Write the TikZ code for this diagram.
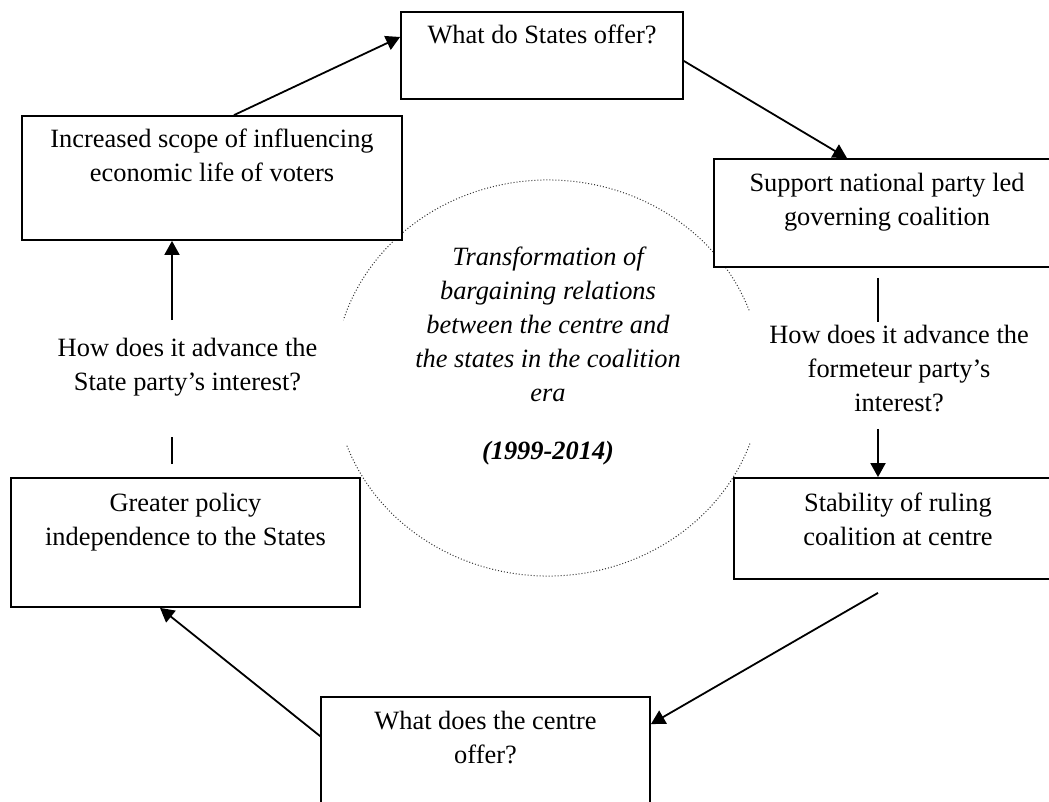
\documentclass[tikz,border=0pt]{standalone}
\usepackage{fontspec}
\setmainfont{Liberation Serif}
\usepackage{tikz}
\usetikzlibrary{positioning}
\usetikzlibrary{arrows.meta}

\begin{document}
\begin{tikzpicture}[x=0.5pt, y=-0.5pt,
    box/.style={draw, line width=0.9pt, fill=white, inner sep=0pt},
    txt/.style={align=center, inner sep=0pt, font=\fontsize{13.2}{17}\selectfont},
    line/.style={line width=0.9pt},
    arr/.style={line width=0.9pt, -{Triangle[length=7pt,width=7.5pt]}},
    ring/.style={line width=0.5pt, dash pattern=on 0.5pt off 1pt, black!80}]
        \useasboundingbox (0,0) rectangle (1049,802);
        \clip (0,0) rectangle (1049,802);

        % central ellipse
        \draw[ring] (548,378) ++(20:107pt and 99pt)
            arc[start angle=20, end angle=163, x radius=107pt, y radius=99pt];
        \draw[ring] (548,378) ++(200:107pt and 99pt)
            arc[start angle=200, end angle=341, x radius=107pt, y radius=99pt];
        \node[txt, font=\fontsize{13.2}{17}\selectfont\itshape, anchor=north] (theme) at (548,241)
            {\strut Transformation of\\bargaining relations\\between the centre and\\the states in the coalition\\era\\[12pt]\textbf{(1999-2014)}\strut};

        % boxes
        \node[box, minimum width=141pt, minimum height=43.5pt] (sto) at (542,55.5) {};
        \node[txt, below=4pt of sto.north] (stotxt) {\strut What do States offer?};
        \node[box, minimum width=190pt, minimum height=62pt] (inc) at (212,178) {};
        \node[txt, below=4.3pt of inc.north] (inctxt) {\strut Increased scope of influencing\\economic life of voters};
        \node[box, minimum width=173pt, minimum height=54pt] (sup) at (887,213) {};
        \node[txt, below=4.8pt of sup.north] (suptxt) {\strut Support national party led\\governing coalition};
        \node[box, minimum width=174.5pt, minimum height=64.5pt] (grt) at (185.5,542.5) {};
        \node[txt, below=5pt of grt.north] (grttxt) {\strut Greater policy\\independence to the States};
        \node[box, minimum width=164pt, minimum height=50.5pt] (stb) at (898,528.5) {};
        \node[txt, below=5pt of stb.north] (stbtxt) {\strut Stability of ruling\\coalition at centre};
        \node[box, minimum width=164.5pt, minimum height=66.5pt] (cen) at (485.5,763.5) {};
        \node[txt, below=4.6pt of cen.north] (centxt) {\strut What does the centre\\offer?};

        % questions
        \node[txt, anchor=north] (llab) at (187.5,332) {\strut How does it advance the\\State party’s interest?\strut};
        \node[txt, anchor=north] (rlab) at (899,319) {\strut How does it advance the\\formeteur party’s\\interest?\strut};

        \draw[arr] ([xshift=11pt]inc.north) -- ([yshift=9.25pt]sto.west);
        \draw[arr] ([yshift=-2.75pt]sto.east) -- ([xshift=-20pt]sup.north);
        \draw[line] ([xshift=-4.5pt,yshift=-5pt]sup.south) -- ([xshift=-10.5pt,yshift=-1.5pt]rlab.north);
        \draw[arr] ([xshift=-10.5pt,yshift=-3.5pt]rlab.south) -- ([xshift=-10pt]stb.north);
        \draw[arr] ([xshift=-10pt,yshift=-6.5pt]stb.south) -- ([yshift=-14pt]cen.north east);
        \draw[arr] ([yshift=-20pt]cen.north west) -- ([xshift=-12.75pt]grt.south);
        \draw[line] ([xshift=-6.75pt,yshift=6.5pt]grt.north) -- ([xshift=-7.75pt,yshift=-18pt]llab.south);
        \draw[arr] ([xshift=-7.75pt,yshift=6pt]llab.north) -- ([xshift=-20pt]inc.south);

\end{tikzpicture}
\end{document}
